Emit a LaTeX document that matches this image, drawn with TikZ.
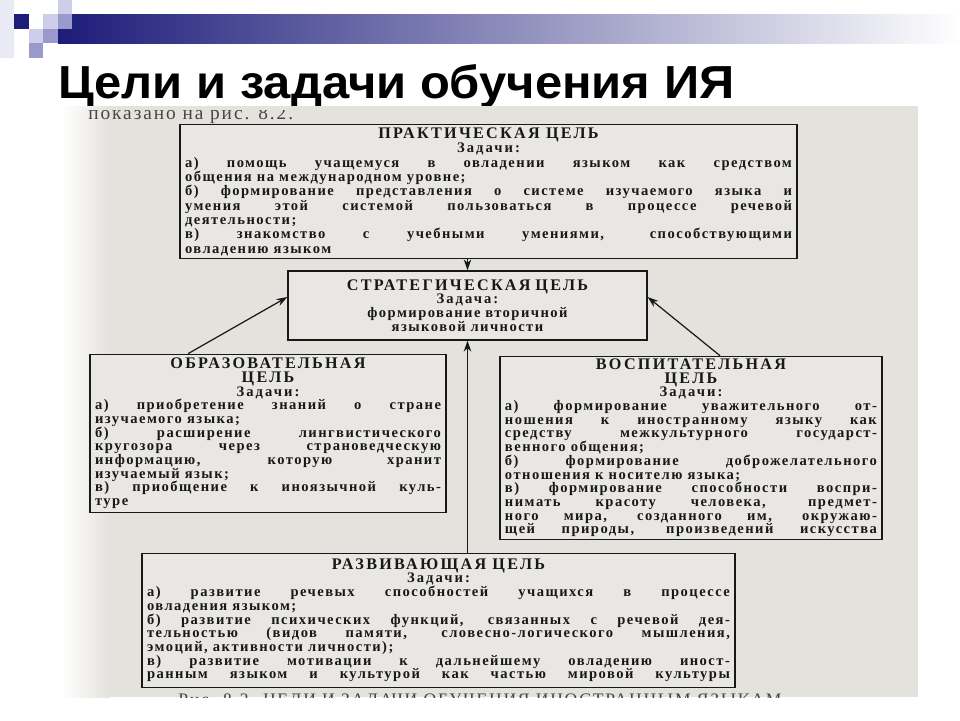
\documentclass[tikz,border=0pt]{standalone}
\usepackage{fontspec}
\usepackage{graphicx}
\setmainfont{Liberation Serif}
\usetikzlibrary{positioning,arrows.meta}
\newfontfamily\slidefont{Liberation Sans}
\newfontfamily\scanbodyfont[LetterSpace=10]{Liberation Serif}
\newfontfamily\scantitlefont[LetterSpace=14]{Liberation Serif}
\definecolor{slNavy}{RGB}{28,28,122}
\definecolor{slLavMid}{RGB}{153,153,204}
\definecolor{slLavLight}{RGB}{206,206,234}
\definecolor{slLavPale}{RGB}{234,234,245}
\definecolor{scanPaper}{RGB}{228,226,221}
\definecolor{scanBox}{RGB}{233,231,227}
\definecolor{scanInk}{RGB}{24,24,24}
\newcommand\scanbody{\scanbodyfont\bfseries\fontsize{8.3}{7.8}\selectfont\lineskiplimit=-20pt\lineskip=0pt}
\newcommand\goaltitle{\scantitlefont\bfseries\fontsize{9.2}{7.9}\selectfont}
\newcommand\goalhead[2]{{\centering{\goaltitle #1\par}{\scantitlefont #2}\par}}
\tikzset{
    goal/.style={draw=scanInk, line width=0.75pt, fill=scanBox, text=scanInk,
                 inner xsep=0.1cm, inner ysep=0.04cm, font=\scanbody, align=justify},
    link/.style={-{Stealth[length=2.2mm,width=1.5mm]}, line width=0.7pt, scanInk}
}

\begin{document}
\begin{tikzpicture}[x=0.02cm, y=-0.02cm]
  \useasboundingbox (0,0) rectangle (960,720);
  \fill[white] (0,0) rectangle (960,720);

  % slide header
  \fill[slLavPale] (0,0) rectangle (14,58);
  \shade[left color=slNavy, middle color=slLavMid, right color=white] (58,14) rectangle (960,43);
  \fill[slNavy] (14,14) rectangle (29,29);
  \fill[white] (29,14) rectangle (43,29);
  \fill[slLavLight] (43,14) rectangle (58,29);
  \fill[slLavLight] (58,0) rectangle (72,14);
  \fill[slLavMid] (58,14) rectangle (72,29);
  \fill[slLavLight] (29,29) rectangle (43,43);
  \fill[slLavMid] (43,29) rectangle (58,43);
  \fill[slLavMid] (29,43) rectangle (43,58);

  \node[anchor=base west, inner sep=0pt] (title) at (58,98)
    {\resizebox{13.52cm}{0.68cm}{\slidefont\bfseries Цели и задачи обучения ИЯ}};

  % scanned page
  \fill[scanPaper] (62,106) rectangle (918,697);
  \shade[left color=white, right color=scanPaper] (62,106) rectangle (110,697);
  \begin{scope}
    \clip (62,110) rectangle (918,697);
    \node[anchor=base west, inner sep=0pt, text=scanInk!80,
          font=\scanbodyfont\fontsize{11}{12}\selectfont] (topnote) at (88,119) {показано на рис. 8.2.};
    \node[anchor=base west, inner sep=0pt, text=scanInk!80,
          font=\scanbodyfont\fontsize{10}{11}\selectfont] (caption) at (178,705)
      {Рис. 8.2. ЦЕЛИ И ЗАДАЧИ ОБУЧЕНИЯ ИНОСТРАННЫМ ЯЗЫКАМ};
  \end{scope}

  % goals
  \node[goal, align=center, text width=6.98cm, minimum height=1.38cm] (strat) at (467.5,305.5)
    {{\goaltitle СТРАТЕГИЧЕСКАЯ ЦЕЛЬ\par}{\scantitlefont Задача:}\\формирование вторичной\\языковой личности};

  \node[goal, font=\scanbody\fontsize{8.3}{8.15}\selectfont, text width=12.14cm, minimum height=2.68cm,
        above=0.22cm of strat, xshift=0.42cm] (prak) {%
    \goalhead{ПРАКТИЧЕСКАЯ ЦЕЛЬ}{Задачи:}
    а) помощь учащемуся в овладении языком как средством\linebreak
    общения на международном уровне;\par
    б) формирование представления о системе изучаемого языка и\linebreak
    умения этой системой пользоваться в процессе речевой\linebreak
    деятельности;\par
    в) знакомство с учебными умениями, способствующими\linebreak
    овладению языком};

  \node[goal, text width=6.92cm, minimum height=3.16cm, below=0.26cm of strat, xshift=-3.99cm] (obraz) {%
    \goalhead{ОБРАЗОВАТЕЛЬНАЯ\\ЦЕЛЬ}{Задачи:}
    а) приобретение знаний о стране\linebreak
    изучаемого языка;\par
    б) расширение лингвистического\linebreak
    кругозора через страноведческую\linebreak
    информацию, которую хранит\linebreak
    изучаемый язык;\par
    в) приобщение к иноязычной куль-\linebreak
    туре};

  \node[goal, text width=7.44cm, minimum height=3.66cm, below=0.3cm of strat, xshift=4.47cm] (vosp) {%
    \goalhead{ВОСПИТАТЕЛЬНАЯ\\ЦЕЛЬ}{Задачи:}
    а) формирование уважительного от-\linebreak
    ношения к иностранному языку как\linebreak
    средству межкультурного государст-\linebreak
    венного общения;\par
    б) формирование доброжелательного\linebreak
    отношения к носителю языка;\par
    {\parfillskip=0pt в) формирование способности воспри-\linebreak
    нимать красоту человека, предмет-\linebreak
    ного мира, созданного им, окружаю-\linebreak
    щей природы, произведений искусства\par}};

  \node[goal, text width=11.66cm, minimum height=2.68cm, below=4.24cm of strat, xshift=-0.58cm] (razv) {%
    \goalhead{РАЗВИВАЮЩАЯ ЦЕЛЬ}{Задачи:}
    а) развитие речевых способностей учащихся в процессе\linebreak
    овладения языком;\par
    б) развитие психических функций, связанных с речевой дея-\linebreak
    тельностью (видов памяти, словесно-логического мышления,\linebreak
    эмоций, активности личности);\par
    {\parfillskip=0pt в) развитие мотивации к дальнейшему овладению иност-\linebreak
    ранным языком и культурой как частью мировой культуры\par}};

  % links to the strategic goal
  \draw[link] (strat.north |- prak.south) -- (strat.north);
  \draw[link] (strat.south |- razv.north) -- (strat.south);
  \draw[link] ([xshift=-1.6cm]obraz.north) -- ([yshift=0.17cm]strat.west);
  \draw[link] ([xshift=0.58cm]vosp.north) -- ([yshift=0.17cm]strat.east);
\end{tikzpicture}
\end{document}
